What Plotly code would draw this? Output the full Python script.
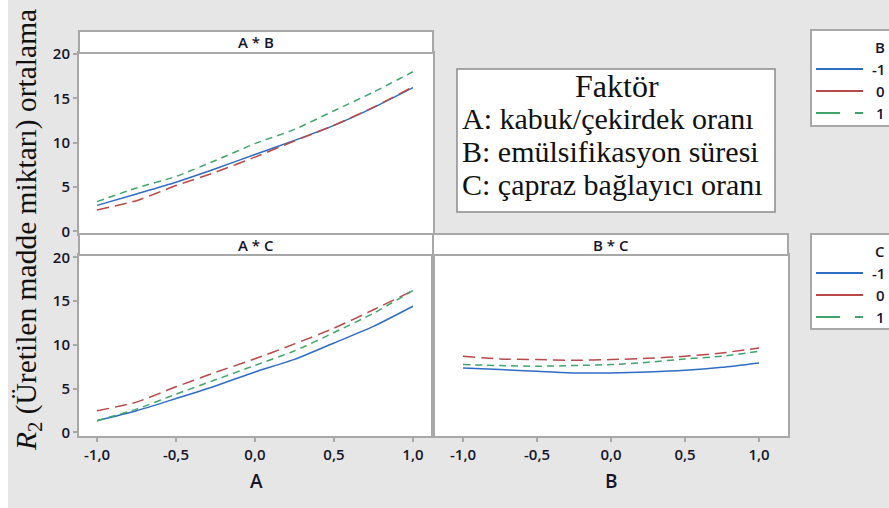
import plotly.graph_objects as go

W, H = 889, 508

# ---------------- data ----------------
levels = [-1.0, -0.75, -0.5, -0.25, 0.0, 0.25, 0.5, 0.75, 1.0]
x_tick_vals = [-1.0, -0.5, 0.0, 0.5, 1.0]
x_tick_text = ["-1,0", "-0,5", "0,0", "0,5", "1,0"]
y_tick_vals = [0, 5, 10, 15, 20]
y_tick_text = ["0", "5", "10", "15", "20"]
legend_levels = ["-1", "0", "1"]

# A * B panel (series = B level)
ab_b_m1 = [2.94, 4.23, 5.55, 7.06, 8.68, 10.26, 11.96, 13.96, 16.2]
ab_b_0 = [2.42, 3.47, 5.17, 6.68, 8.38, 10.2, 11.96, 14.0, 16.3]
ab_b_p1 = [3.36, 4.9, 6.2, 8.0, 9.9, 11.5, 13.6, 15.7, 18.0]
# A * C panel (series = C level)
ac_c_m1 = [1.33, 2.46, 3.86, 5.3, 6.9, 8.33, 10.2, 12.1, 14.4]
ac_c_0 = [2.46, 3.45, 5.2, 6.85, 8.4, 10.1, 11.9, 14.0, 16.2]
ac_c_p1 = [1.33, 2.65, 4.36, 6.0, 7.65, 9.3, 11.4, 13.6, 16.2]
# B * C panel (series = C level)
bc_c_m1 = [7.36, 7.17, 6.98, 6.79, 6.79, 6.9, 7.09, 7.43, 7.93]
bc_c_0 = [8.69, 8.39, 8.31, 8.23, 8.31, 8.46, 8.69, 9.07, 9.64]
bc_c_p1 = [7.74, 7.63, 7.55, 7.63, 7.74, 8.0, 8.39, 8.69, 9.26]

panel_titles = ["A * B", "A * C", "B * C"]
x_titles = ["A", "B"]
factor_title = "Faktör"
factor_lines = ["A: kabuk/çekirdek oranı", "B: emülsifikasyon süresi", "C: çapraz bağlayıcı oranı"]
y_title = "<i>R</i><sub>2</sub> (Üretilen madde miktarı) ortalama"

# ---------------- styles ----------------
BLUE = "#2f6cc4"
RED = "#b94848"
GREEN = "#3fa56a"
FRAME = "#a8a8a8"
BG = "#e6e6e6"
TXT = "#15152a"
SANS = "Open Sans, sans-serif"
SERIF = "Liberation Serif, Times New Roman, serif"
WEIGHT = 600

styles = [
    dict(color=BLUE, width=1.5, dash="solid"),
    dict(color=RED, width=1.5, dash="12px,6px"),
    dict(color=GREEN, width=1.5, dash="7px,5px"),
]


def fx(px):
    return px / W


def fy(py):
    return 1 - py / H


fig = go.Figure()

panels = [
    ("x", "y", [ab_b_m1, ab_b_0, ab_b_p1]),
    ("x2", "y2", [ac_c_m1, ac_c_0, ac_c_p1]),
    ("x3", "y3", [bc_c_m1, bc_c_0, bc_c_p1]),
]
for xa, ya, series in panels:
    for vals, st, name in zip(series, styles, legend_levels):
        fig.add_trace(go.Scatter(
            x=levels, y=vals, xaxis=xa, yaxis=ya, mode="lines",
            line=dict(color=st["color"], width=st["width"], dash=st["dash"], shape="spline", smoothing=0.6),
            name=name, showlegend=False, hoverinfo="x+y",
        ))

# pixel geometry of panels
L, M, R = 79, 433, 788
TOP_STRIP, TOP_PLOT, TOP_BOT = 31, 53, 233.5
BOT_STRIP, BOT_PLOT, BOT_BOT = 234, 255, 436

axis_common = dict(
    showgrid=False, zeroline=False, showline=True, linecolor=FRAME, linewidth=2,
    mirror=True, automargin=False, fixedrange=True,
)
tickfont = dict(family=SANS, size=15, color=TXT, weight=WEIGHT)

fig.update_layout(
    xaxis=dict(domain=[fx(L), fx(M)], range=[-1.114, 1.127], anchor="y",
               showticklabels=False, ticks="", **axis_common),
    yaxis=dict(domain=[fy(TOP_BOT), fy(TOP_PLOT)], range=[-0.23, 20.11], anchor="x",
               tickvals=y_tick_vals, ticktext=y_tick_text, ticks="outside", ticklen=4,
               tickcolor=FRAME, tickwidth=1.5, tickfont=tickfont, **axis_common),
    xaxis2=dict(domain=[fx(L), fx(M)], range=[-1.114, 1.127], anchor="y2",
                tickvals=x_tick_vals, ticktext=x_tick_text, ticks="outside", ticklen=4,
                tickcolor=FRAME, tickwidth=1.5, tickfont=tickfont, **axis_common),
    yaxis2=dict(domain=[fy(BOT_BOT), fy(BOT_PLOT)], range=[-0.42, 20.26], anchor="x2",
                tickvals=y_tick_vals, ticktext=y_tick_text, ticks="outside", ticklen=4,
                tickcolor=FRAME, tickwidth=1.5, tickfont=tickfont, **axis_common),
    xaxis3=dict(domain=[fx(M), fx(R)], range=[-1.203, 1.196], anchor="y3",
                tickvals=x_tick_vals, ticktext=x_tick_text, ticks="outside", ticklen=4,
                tickcolor=FRAME, tickwidth=1.5, tickfont=tickfont, **axis_common),
    yaxis3=dict(domain=[fy(BOT_BOT), fy(BOT_PLOT)], range=[-0.42, 20.26], anchor="x3",
                showticklabels=False, ticks="", **axis_common),
    width=W, height=H, margin=dict(l=0, r=0, t=0, b=0),
    paper_bgcolor=BG, plot_bgcolor="white", showlegend=False,
)

shapes = []
annotations = []

# white strip on the far left
shapes.append(dict(type="rect", xref="paper", yref="paper", x0=0, x1=fx(8), y0=0, y1=1,
                   fillcolor="white", line=dict(width=0), layer="below"))

# panel header strips
strips = [(L, M, TOP_STRIP, TOP_PLOT), (L, M, BOT_STRIP, BOT_PLOT), (M, R, BOT_STRIP, BOT_PLOT)]
for (x0, x1, y0, y1), title in zip(strips, panel_titles):
    shapes.append(dict(type="rect", xref="paper", yref="paper", x0=fx(x0), x1=fx(x1),
                       y0=fy(y1), y1=fy(y0), fillcolor="white", line=dict(color=FRAME, width=2)))
    annotations.append(dict(xref="paper", yref="paper", x=fx((x0 + x1) / 2), y=fy((y0 + y1) / 2 + 0.5),
                            text=title, showarrow=False, xanchor="center", yanchor="middle",
                            font=dict(family=SANS, size=15, color=TXT, weight=WEIGHT)))

# x-axis titles
annotations.append(dict(xref="paper", yref="paper", x=fx(256), y=fy(481), text=x_titles[0],
                        showarrow=False, xanchor="center", yanchor="middle",
                        font=dict(family=SANS, size=19, color=TXT, weight=WEIGHT)))
annotations.append(dict(xref="paper", yref="paper", x=fx(611), y=fy(481), text=x_titles[1],
                        showarrow=False, xanchor="center", yanchor="middle",
                        font=dict(family=SANS, size=19, color=TXT, weight=WEIGHT)))

# y-axis title
annotations.append(dict(xref="paper", yref="paper", x=fx(28), y=fy(230), text=y_title,
                        showarrow=False, xanchor="center", yanchor="middle", textangle=-90,
                        font=dict(family=SERIF, size=29.5, color="#111111")))

# factor box
shapes.append(dict(type="rect", xref="paper", yref="paper", x0=fx(457), x1=fx(775),
                   y0=fy(212), y1=fy(69), fillcolor="white", line=dict(color="#8c8c8c", width=1.5)))
annotations.append(dict(xref="paper", yref="paper", x=fx(617), y=fy(86), text=factor_title,
                        showarrow=False, xanchor="center", yanchor="middle",
                        font=dict(family=SERIF, size=32, color="#111111")))
for i, line in enumerate(factor_lines):
    annotations.append(dict(xref="paper", yref="paper", x=fx(460), y=fy(118 + 33 * i), text=line,
                            showarrow=False, xanchor="left", yanchor="middle",
                            font=dict(family=SERIF, size=30, color="#111111")))

# manual legends
legend_specs = [("B", 30, 126), ("C", 234, 329)]
legend_dashes = ["solid", "solid", "24px,15px"]
for title, y0, y1 in legend_specs:
    shapes.append(dict(type="rect", xref="paper", yref="paper", x0=fx(811), x1=fx(905),
                       y0=fy(y1), y1=fy(y0), fillcolor="white", line=dict(color=FRAME, width=2)))
    annotations.append(dict(xref="paper", yref="paper", x=fx(887), y=fy(y0 + 17), text=title,
                            showarrow=False, xanchor="right", yanchor="middle",
                            font=dict(family=SANS, size=15, color=TXT, weight=WEIGHT)))
    for i, (lab, st, dsh) in enumerate(zip(legend_levels, styles, legend_dashes)):
        yy = y0 + 39 + 22 * i
        shapes.append(dict(type="line", xref="paper", yref="paper", x0=fx(816), x1=fx(863),
                           y0=fy(yy), y1=fy(yy), line=dict(color=st["color"], width=2, dash=dsh)))
        annotations.append(dict(xref="paper", yref="paper", x=fx(887), y=fy(yy), text=lab,
                                showarrow=False, xanchor="right", yanchor="middle",
                                font=dict(family=SANS, size=15, color=TXT, weight=WEIGHT)))

fig.update_layout(shapes=shapes, annotations=annotations)
fig.write_html("out.html")
